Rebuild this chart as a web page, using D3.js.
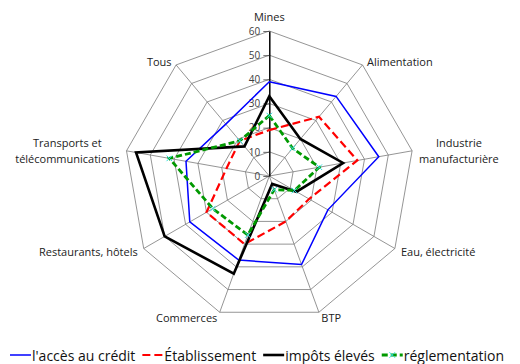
<!DOCTYPE html>
<html>
<head>
<meta charset="utf-8">
<script src="https://cdn.jsdelivr.net/npm/d3@7/dist/d3.min.js"></script>
<style>
  html, body { margin: 0; padding: 0; background: #fff; }
  svg { display: block; font-family: "Open Sans", "Noto Sans", sans-serif; }
</style>
</head>
<body>
<svg id="chart" width="520" height="364"></svg>
<script>
// Sector names (line breaks mark wrapped labels)
const categories = [
  "Mines",
  "Alimentation",
  "Industrie\nmanufacturière",
  "Eau, électricité",
  "BTP",
  "Commerces",
  "Restaurants, hôtels",
  "Transports et\ntélécommunications",
  "Tous"
];

// Share of firms citing each obstacle, per sector
const credit         = [39, 43, 46, 28, 39, 37, 38, 35, 28];
const etablissement  = [19, 32, 37, 19, 20, 30, 30, 18, 19];
const impots         = [33, 20, 31, 13, 3.5, 43, 50, 56, 16];
const reglementation = [25, 15, 21, 12, 6, 26, 27, 42, 19];

const seriesNames = ["l'accès au crédit", "Établissement", "impôts élevés", "réglementation"];
const tickValues = [0, 10, 20, 30, 40, 50, 60];

const series = [
  { name: seriesNames[0], values: credit,         color: "#0000ff", width: 1.5, dash: null },
  { name: seriesNames[1], values: etablissement,  color: "#ff0000", width: 2.2, dash: "8,4" },
  { name: seriesNames[2], values: impots,         color: "#000000", width: 2.6, dash: null },
  { name: seriesNames[3], values: reglementation, color: "#009900", width: 2.8, dash: "6,3", marker: "#33dddd" }
];

const svg = d3.select("#chart");
const cx = 269.3, cy = 176, R = 145;
const n = categories.length;

const r = d3.scaleLinear().domain([0, 60]).range([0, R]);
const ang = d3.scaleLinear().domain([0, n]).range([0, 2 * Math.PI]);

const pt = (i, v) => {
  const a = ang(i);
  return [cx + r(v) * Math.sin(a), cy - r(v) * Math.cos(a)];
};

const closed = d3.line().curve(d3.curveLinearClosed);

// Grid rings
const grid = svg.append("g");
tickValues.filter(t => t > 0).forEach(t => {
  grid.append("path")
    .attr("d", closed(d3.range(n).map(i => pt(i, t))))
    .attr("fill", "none")
    .attr("stroke", "#7a7a7a")
    .attr("stroke-width", 0.8);
});

// Spokes
d3.range(1, n).forEach(i => {
  const [x, y] = pt(i, 60);
  grid.append("line")
    .attr("x1", cx).attr("y1", cy).attr("x2", x).attr("y2", y)
    .attr("stroke", "#7a7a7a").attr("stroke-width", 0.8);
});

// Value axis along the first spoke
const yAxisScale = d3.scaleLinear().domain([0, 60]).range([cy, cy - R]);
const axis = svg.append("g")
  .attr("transform", `translate(${cx},0)`)
  .call(d3.axisLeft(yAxisScale).tickValues(tickValues).tickSize(6).tickSizeOuter(0).tickPadding(3));
axis.select(".domain").attr("stroke", "#000").attr("stroke-width", 1.5);
axis.selectAll(".tick line").attr("stroke", "#444").attr("stroke-width", 0.8);
axis.selectAll(".tick text")
  .attr("fill", "#404040")
  .style("font-size", "10px")
  .style("font-family", "'Open Sans', sans-serif");

// Category labels
const labels = svg.append("g").style("font-size", "11px").attr("fill", "#222");
categories.forEach((c, i) => {
  const a = ang(i);
  const s = Math.sin(a), co = Math.cos(a);
  const [vx, vy] = pt(i, 60);
  const lines = c.split("\n");
  const lh = 15.8;
  const t = labels.append("text");
  lines.forEach((ln, k) => {
    t.append("tspan").attr("x", 0).attr("dy", k === 0 ? 0 : lh).text(ln);
  });
  let x, y, anchor;
  if (Math.abs(s) < 0.1) {
    anchor = "middle"; x = vx; y = vy - 15;
  } else if (lines.length > 1) {
    anchor = "middle";
    const w = d3.max(t.selectAll("tspan").nodes(), nd => nd.getComputedTextLength());
    x = vx + Math.sign(s) * (7 + w / 2);
    y = vy - 5 * co - (lines.length - 1) * lh / 2;
  } else {
    anchor = s > 0 ? "start" : "end";
    x = vx + s * 7;
    y = vy - 5 * co;
  }
  t.attr("text-anchor", anchor)
   .attr("transform", `translate(${x},${y})`)
   .attr("dominant-baseline", "central");
  t.selectAll("tspan").attr("x", 0);
});

// Data polygons
const plot = svg.append("g");
series.forEach(sr => {
  plot.append("path")
    .attr("d", closed(sr.values.map((v, i) => pt(i, v))))
    .attr("fill", "none")
    .attr("stroke", sr.color)
    .attr("stroke-width", sr.width)
    .attr("stroke-dasharray", sr.dash)
    .attr("stroke-linejoin", "miter");
  if (sr.marker) {
    sr.values.forEach((v, i) => {
      const [x, y] = pt(i, v);
      const m = 2.8;
      plot.append("path")
        .attr("d", `M${x - m},${y - m}L${x + m},${y + m}M${x - m},${y + m}L${x + m},${y - m}`)
        .attr("stroke", sr.marker).attr("stroke-width", 1);
    });
  }
});

// Legend
const legend = svg.append("g").style("font-size", "14px").attr("fill", "#111");
const ly = 355;
let lx = 10;
series.forEach(sr => {
  const g = legend.append("g");
  g.append("line")
    .attr("x1", lx).attr("x2", lx + 21).attr("y1", ly).attr("y2", ly)
    .attr("stroke", sr.color).attr("stroke-width", sr.width)
    .attr("stroke-dasharray", sr.dash);
  if (sr.marker) {
    const mx = lx + 10.5, m = 2.8;
    g.append("path")
      .attr("d", `M${mx - m},${ly - m}L${mx + m},${ly + m}M${mx - m},${ly + m}L${mx + m},${ly - m}`)
      .attr("stroke", sr.marker).attr("stroke-width", 1);
  }
  const tx = g.append("text")
    .attr("x", lx + 22).attr("y", ly)
    .attr("dominant-baseline", "central")
    .text(sr.name);
  lx += 22 + tx.node().getComputedTextLength() + 7;
});
</script>
</body>
</html>
